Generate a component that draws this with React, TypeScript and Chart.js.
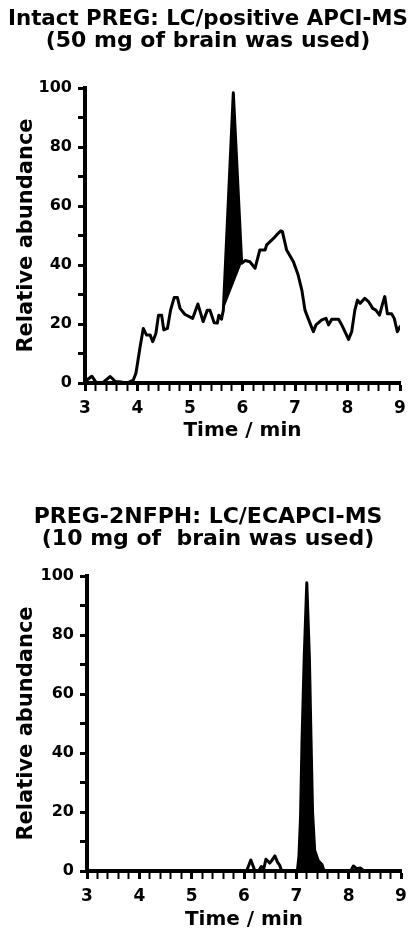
import React, { useEffect, useRef } from 'react';
import { Chart, registerables } from 'chart.js';

Chart.register(...registerables);
Chart.defaults.color = '#000';

const FONT = '"DejaVu Sans", "Liberation Sans", sans-serif';

// Axis ticks (minutes, relative abundance)
const X_TICKS = [3, 3.2, 3.4, 3.6, 3.8, 4, 4.2, 4.4, 4.6, 4.8, 5, 5.2, 5.4, 5.6, 5.8, 6, 6.2, 6.4, 6.6, 6.8, 7, 7.2, 7.4, 7.6, 7.8, 8, 8.2, 8.4, 8.6, 8.8, 9];
const Y_TICKS = [0, 10, 20, 30, 40, 50, 60, 70, 80, 90, 100];
const X_TITLE = 'Time / min';
const Y_TITLE = 'Relative abundance';

// Panel A: intact PREG, LC/positive APCI-MS
const TITLE_A = ['Intact PREG: LC/positive APCI-MS', '(50 mg of brain was used)'];
const TIME_A = [3.00, 3.13, 3.22, 3.35, 3.48, 3.58, 3.70, 3.80, 3.92, 3.97, 4.05, 4.11, 4.17, 4.24, 4.29, 4.35, 4.40, 4.46, 4.50, 4.57, 4.63, 4.70, 4.76, 4.81, 4.90, 5.05, 5.15, 5.25, 5.33, 5.38, 5.46, 5.52, 5.55, 5.60, 5.635, 5.825, 5.985, 6.05, 6.14, 6.24, 6.33, 6.43, 6.46, 6.59, 6.65, 6.73, 6.76, 6.84, 6.97, 7.06, 7.13, 7.19, 7.25, 7.35, 7.40, 7.51, 7.59, 7.64, 7.70, 7.83, 7.89, 8.02, 8.08, 8.14, 8.19, 8.24, 8.33, 8.40, 8.48, 8.54, 8.61, 8.67, 8.71, 8.76, 8.84, 8.89, 8.95, 9.00];
const ABUND_A = [0.5, 2.3, 0, 0.3, 2.2, 0.5, 0.3, 0, 1, 3.3, 12.3, 18.5, 16.3, 16.3, 14, 16.8, 23, 23, 18, 18.5, 24.7, 29, 29, 25.3, 23.3, 21.9, 26.8, 20.8, 24.7, 24.7, 20.4, 20.3, 23, 21.6, 24.7, 98.4, 40.6, 41.5, 41.1, 38.9, 45.1, 45.1, 46.8, 49, 50.2, 51.6, 51.3, 45.1, 41.1, 36.6, 31.5, 24.7, 21.9, 17.4, 19.7, 21.4, 21.9, 19.7, 21.6, 21.6, 19.7, 14.8, 17.4, 24.7, 28.1, 27, 28.7, 27.6, 25.3, 24.7, 23, 27, 29.3, 23.5, 23.5, 21.9, 17.4, 19.1];
const PEAK_A_RANGE = [5.635, 5.985];

// Panel B: PREG-2NFPH, LC/ECAPCI-MS
const TITLE_B = ['PREG-2NFPH: LC/ECAPCI-MS', '(10 mg of  brain was used)'];
const TIME_B = [3.00, 6.05, 6.13, 6.21, 6.28, 6.33, 6.38, 6.42, 6.46, 6.49, 6.53, 6.59, 6.64, 6.68, 6.72, 7.02, 7.05, 7.08, 7.11, 7.15, 7.20, 7.25, 7.28, 7.31, 7.35, 7.42, 7.49, 7.53, 8.04, 8.09, 8.15, 8.22, 8.30, 9.00];
const ABUND_B = [0, 0, 3.7, 0, 0, 1.5, 1, 4, 3.3, 2.7, 3.5, 5.1, 3, 2, 0, 0, 5, 18, 45, 72, 97.7, 72, 45, 20, 7, 3.5, 2.2, 0, 0, 1.7, 0.8, 1, 0, 0];
const PEAK_B_RANGE = [7.02, 7.53];

type Spec = {
  title: string[];
  time: number[];
  abund: number[];
  peakRange: number[];
  peakFill: 'shape' | 'origin';
  top: number;
  height: number;
  titlePad: { top: number; bottom: number };
  sidePad: number;
  yAxisWidth: number;
  rightGap: number;
  xAxisHeight: number;
  xTitlePadBottom: number;
};

const isInt = (v: number) => Math.abs(v - Math.round(v)) < 1e-6;

function buildConfig(s: Spec): any {
  const pts = s.time.map((t, i) => ({ x: t, y: s.abund[i] }));
  const peak = pts.filter((p) => p.x >= s.peakRange[0] - 1e-9 && p.x <= s.peakRange[1] + 1e-9);
  return {
    type: 'line',
    data: {
      datasets: [
        {
          data: peak,
          fill: s.peakFill,
          backgroundColor: '#000',
          borderColor: '#000',
          borderWidth: 1,
          pointRadius: 0,
          tension: 0,
        },
        {
          data: pts,
          fill: false,
          borderColor: '#000',
          borderWidth: 3,
          borderJoinStyle: 'round',
          borderCapStyle: 'round',
          pointRadius: 0,
          tension: 0,
        },
      ],
    },
    options: {
      responsive: false,
      animation: false,
      events: [],
      layout: { padding: { left: s.sidePad, right: s.sidePad, top: 0, bottom: 0 } },
      plugins: {
        legend: { display: false },
        tooltip: { enabled: false },
        title: {
          display: true,
          text: s.title,
          color: '#000',
          font: { family: FONT, weight: 'bold', size: 22, lineHeight: 1 },
          padding: s.titlePad,
        },
      },
      scales: {
        x: {
          type: 'linear',
          min: 3,
          max: 9,
          afterBuildTicks: (sc: any) => {
            sc.ticks = X_TICKS.map((v) => ({ value: v }));
          },
          afterFit: (sc: any) => {
            sc.height = s.xAxisHeight;
          },
          border: { display: true, width: 4, color: '#000' },
          grid: {
            display: true,
            drawOnChartArea: false,
            drawTicks: true,
            tickLength: 8,
            tickColor: '#000',
            tickWidth: (ctx: any) => (ctx.tick && isInt(ctx.tick.value) ? 3 : 2),
          },
          ticks: {
            autoSkip: false,
            maxRotation: 0,
            minRotation: 0,
            padding: 7.5,
            color: '#000',
            font: { family: FONT, weight: 'bold', size: 17 },
            callback: (v: any) => (isInt(Number(v)) ? String(Math.round(Number(v))) : ''),
          },
          title: {
            display: true,
            text: X_TITLE,
            color: '#000',
            font: { family: FONT, weight: 'bold', size: 20, lineHeight: 1.2 },
            padding: { top: 0, bottom: s.xTitlePadBottom },
          },
        },
        y: {
          type: 'linear',
          min: 0,
          max: 100,
          afterBuildTicks: (sc: any) => {
            sc.ticks = Y_TICKS.map((v) => ({ value: v }));
          },
          afterFit: (sc: any) => {
            sc.width = s.yAxisWidth;
          },
          border: { display: true, width: 4, color: '#000' },
          grid: {
            display: true,
            drawOnChartArea: false,
            drawTicks: true,
            tickLength: 7,
            tickColor: '#000',
            tickWidth: 3,
          },
          ticks: {
            autoSkip: false,
            padding: 6,
            color: '#000',
            font: { family: FONT, weight: 'bold', size: 16 },
            callback: (v: any) => (Number(v) % 20 === 0 ? String(v) : ''),
          },
          title: {
            display: true,
            text: Y_TITLE,
            color: '#000',
            font: { family: FONT, weight: 'bold', size: 21, lineHeight: 1.2 },
            padding: { top: 14 - s.sidePad, bottom: 0 },
          },
        },
        // invisible spacer on the right so the title stays centred on the page
        yRight: {
          type: 'linear',
          position: 'right',
          display: true,
          afterFit: (sc: any) => {
            sc.width = s.rightGap;
          },
          border: { display: false },
          grid: { display: false },
          ticks: { display: false },
          title: { display: false },
        },
      },
    },
  };
}

function Panel({ spec }: { spec: Spec }) {
  const ref = useRef<HTMLCanvasElement>(null);
  useEffect(() => {
    const chart = new Chart(ref.current as HTMLCanvasElement, buildConfig(spec));
    return () => chart.destroy();
  }, []);
  return (
    <div style={{ position: 'absolute', left: 0, top: spec.top, width: 416, height: spec.height }}>
      <canvas ref={ref} width={416} height={spec.height} style={{ display: 'block' }} />
    </div>
  );
}

const SPEC_A: Spec = {
  title: TITLE_A,
  time: TIME_A,
  abund: ABUND_A,
  peakRange: PEAK_A_RANGE,
  peakFill: 'shape',
  top: 0,
  height: 445,
  titlePad: { top: 8.5, bottom: 35.5 },
  sidePad: 8,
  yAxisWidth: 77,
  rightGap: 8,
  xAxisHeight: 62,
  xTitlePadBottom: 2,
};

const SPEC_B: Spec = {
  title: TITLE_B,
  time: TIME_B,
  abund: ABUND_B,
  peakRange: PEAK_B_RANGE,
  peakFill: 'origin',
  top: 490,
  height: 443,
  titlePad: { top: 16.5, bottom: 25.5 },
  sidePad: 8,
  yAxisWidth: 79,
  rightGap: 7,
  xAxisHeight: 62,
  xTitlePadBottom: 1,
};

export default function App() {
  return (
    <div style={{ position: 'absolute', left: 0, top: 0, width: 416, height: 933, background: '#fff' }}>
      <Panel spec={SPEC_A} />
      <Panel spec={SPEC_B} />
    </div>
  );
}
